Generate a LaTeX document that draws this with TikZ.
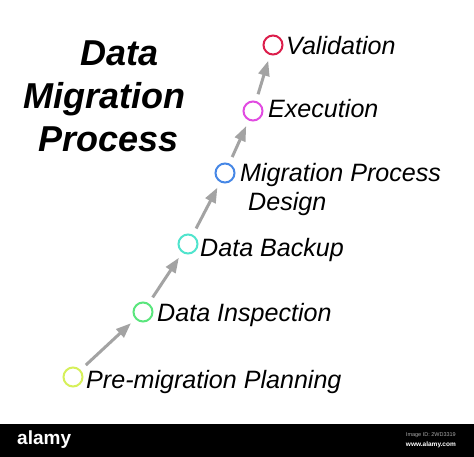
\documentclass[tikz,border=0pt]{standalone}
\usepackage{fontspec}
\setmainfont{Liberation Sans}
\usetikzlibrary{arrows.meta}
\definecolor{arrgray}{RGB}{163,163,163}
\definecolor{cA}{RGB}{214,240,90}
\definecolor{cB}{RGB}{90,230,125}
\definecolor{cC}{RGB}{80,228,205}
\definecolor{cD}{RGB}{70,135,230}
\definecolor{cE}{RGB}{225,75,225}
\definecolor{cF}{RGB}{220,30,75}
\definecolor{idgray}{RGB}{170,170,170}
\tikzset{
  stepdot/.style={circle, draw=#1, line width=2pt, minimum size=19pt, inner sep=0pt},
  steptext/.style={anchor=base west, inner sep=0pt, font=\fontsize{25.1}{29}\selectfont\itshape},
  titletext/.style={anchor=base west, inner sep=0pt, font=\fontsize{36}{43}\selectfont\bfseries\itshape},
  flowarrow/.style={draw=arrgray, line width=3pt, -{Triangle[length=15pt,width=11pt]}, shorten <=7pt, shorten >=6pt}
}
\begin{document}
\begin{tikzpicture}[x=1pt,y=-1pt]
\useasboundingbox (0,0) rectangle (474,457);
\fill[white] (0,0) rectangle (474,457);
% title
\node[titletext] (t1) at (80,66) {Data};
\node[titletext] (t2) at (23,109) {Migration};
\node[titletext] (t3) at (38,152) {Process};
% step circles
\node[stepdot=cA] (s1) at (73,377) {};
\node[stepdot=cB] (s2) at (143,312) {};
\node[stepdot=cC] (s3) at (188,244) {};
\node[stepdot=cD] (s4) at (225,173) {};
\node[stepdot=cE] (s5) at (253,111) {};
\node[stepdot=cF] (s6) at (273,45) {};
% labels
\node[steptext] (l1) at (86,388) {Pre-migration Planning};
\node[steptext] (l2) at (157,321) {Data Inspection};
\node[steptext] (l3) at (200,257) {Data Backup};
\node[steptext] (l4) at (240,182) {Migration Process};
\node[steptext] (l4b) at (248,211) {Design};
\node[steptext] (l5) at (268,118) {Execution};
\node[steptext] (l6) at (286,55) {Validation};
% arrows
\draw[flowarrow] (s1) -- (s2);
\draw[flowarrow] (s2) -- (s3);
\draw[flowarrow] (s3) -- (s4);
\draw[flowarrow] (s4) -- (s5);
\draw[flowarrow] (s5) -- (s6);
% watermark bar
\fill[black] (0,424) rectangle (474,457);
\node[anchor=west, inner sep=0pt, text=white, font=\fontsize{19}{22}\selectfont\bfseries] (wm) at (17,440) {alamy};
\node[anchor=east, inner sep=0pt, text=idgray, font=\fontsize{5.5}{7}\selectfont] (wid) at (456,435) {Image ID: 2WD3319};
\node[anchor=east, inner sep=0pt, text=white, font=\fontsize{6.5}{8}\selectfont\bfseries] (wurl) at (456,445) {www.alamy.com};
\end{tikzpicture}
\end{document}
